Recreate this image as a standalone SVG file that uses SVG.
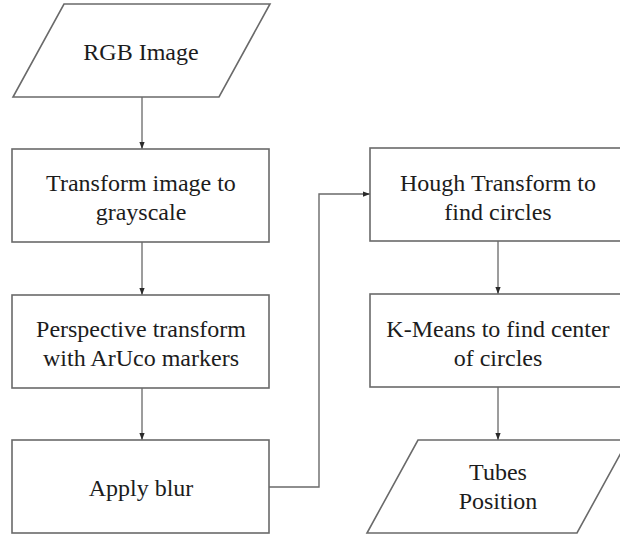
<svg xmlns="http://www.w3.org/2000/svg" width="620" height="535" viewBox="0 0 620 535">
  <defs>
    <style>
      .shape { fill: #ffffff; stroke: #6a6a6a; stroke-width: 1.6; }
      .label { font-family: "Liberation Serif", "Times New Roman", Times, serif; font-size: 24px; fill: #1c1c1c; text-anchor: middle; }
      .link { fill: none; stroke: #3a3a3a; stroke-width: 1; }
      .elbow { fill: none; stroke: #6a6a6a; stroke-width: 1.4; }
    </style>
    <marker id="arrow" viewBox="0 0 8 8" refX="8" refY="4" markerWidth="7" markerHeight="7" markerUnits="userSpaceOnUse" orient="auto">
      <path d="M0,1 L8,4 L0,7 Z" fill="#2a2a2a"/>
    </marker>
  </defs>
  <rect width="620" height="535" fill="#ffffff"/>

  <!-- flow arrows -->
  <g id="connectors">
    <line class="link" x1="142" y1="97" x2="142" y2="149" marker-end="url(#arrow)"/>
    <line class="link" x1="142" y1="242" x2="142" y2="295" marker-end="url(#arrow)"/>
    <line class="link" x1="142" y1="388" x2="142" y2="440" marker-end="url(#arrow)"/>
    <polyline class="elbow" points="269,487 319,487 319,194 370,194" marker-end="url(#arrow)"/>
    <line class="link" x1="498" y1="241" x2="498" y2="294" marker-end="url(#arrow)"/>
    <line class="link" x1="498" y1="387" x2="498" y2="440" marker-end="url(#arrow)"/>
  </g>

  <g id="rgb-image">
    <polygon class="shape" points="64,4 270,4 219,97 13,97"/>
    <text class="label" x="141" y="60">RGB Image</text>
  </g>

  <g id="grayscale">
    <rect class="shape" x="12" y="149" width="257" height="93"/>
    <text class="label" x="141" y="191">Transform image to</text>
    <text class="label" x="141" y="220">grayscale</text>
  </g>

  <g id="perspective">
    <rect class="shape" x="12" y="295" width="257" height="93"/>
    <text class="label" x="141" y="337">Perspective transform</text>
    <text class="label" x="141" y="366">with ArUco markers</text>
  </g>

  <g id="blur">
    <rect class="shape" x="12" y="440" width="257" height="93"/>
    <text class="label" x="141" y="496">Apply blur</text>
  </g>

  <g id="hough">
    <rect class="shape" x="370" y="148" width="257" height="93"/>
    <text class="label" x="498" y="191">Hough Transform to</text>
    <text class="label" x="498" y="220">find circles</text>
  </g>

  <g id="kmeans">
    <rect class="shape" x="370" y="294" width="257" height="93"/>
    <text class="label" x="498" y="337">K-Means to find center</text>
    <text class="label" x="498" y="366">of circles</text>
  </g>

  <g id="tubes-position">
    <polygon class="shape" points="418,440 628,440 577,533 367,533"/>
    <text class="label" x="498" y="480">Tubes</text>
    <text class="label" x="498" y="509">Position</text>
  </g>
</svg>
